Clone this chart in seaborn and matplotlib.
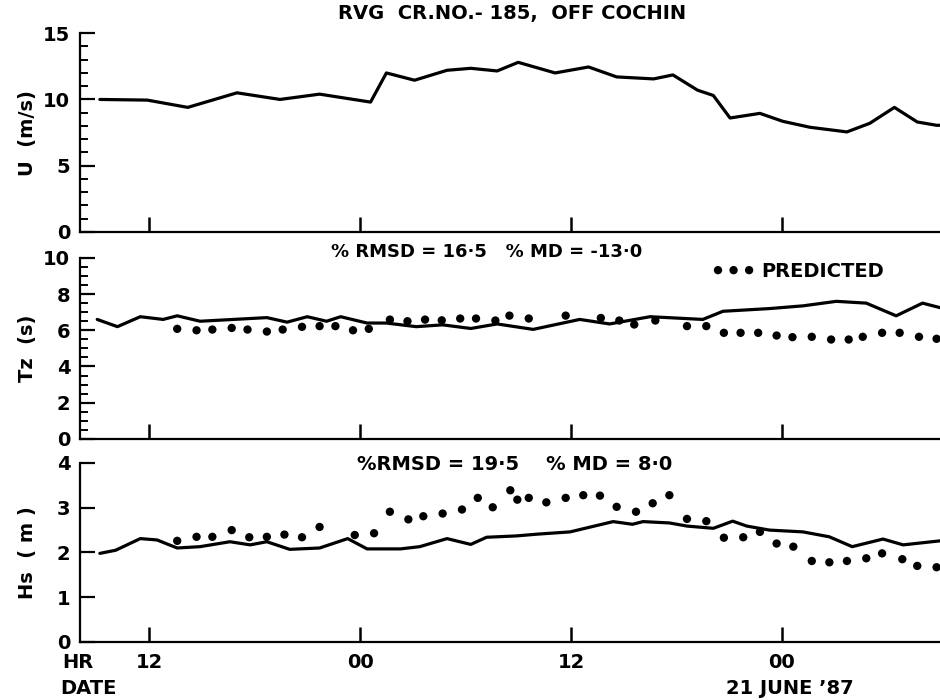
import matplotlib
matplotlib.use("Agg")
import matplotlib.pyplot as plt
import pandas as pd
import seaborn as sns
from matplotlib.ticker import MultipleLocator, FixedLocator

# time axis in hours counted from 00 h of 20 June 1987
# wind speed U (m/s), measured
u_hr = [9.2, 11.9, 14.2, 17.0, 19.45, 21.7, 24.6, 25.5, 27.1, 28.95, 30.3, 31.8,
        33.0, 35.1, 37.0, 38.6, 40.7, 41.8, 43.2, 44.1, 45.05, 46.75, 48.05,
        49.6, 51.7, 53.0, 54.4, 55.7, 56.8, 57.0]
u_val = [10.0, 9.95, 9.4, 10.5, 10.0, 10.4, 9.8, 12.0, 11.45, 12.2, 12.35, 12.15,
         12.8, 12.0, 12.45, 11.7, 11.55, 11.85, 10.7, 10.3, 8.6, 8.95, 8.35,
         7.9, 7.55, 8.2, 9.4, 8.3, 8.05, 8.05]

# zero-crossing period Tz (s), measured
tz_hr = [9.05, 10.2, 11.5, 12.8, 13.6, 14.9, 16.8, 18.7, 19.85, 21.0, 22.1, 22.9,
         24.4, 25.5, 27.2, 28.7, 30.3, 31.8, 33.85, 36.5, 38.2, 40.5, 43.5,
         44.65, 47.3, 49.2, 51.1, 52.8, 54.5, 56.0, 57.0]
tz_val = [6.6, 6.2, 6.75, 6.6, 6.8, 6.5, 6.6, 6.7, 6.45, 6.75, 6.5, 6.75,
          6.4, 6.4, 6.2, 6.3, 6.1, 6.35, 6.05, 6.6, 6.35, 6.75, 6.6,
          7.05, 7.2, 7.35, 7.6, 7.5, 6.8, 7.5, 7.25]

# Tz predicted
tzp_hr = [13.6, 14.7, 15.6, 16.7, 17.6, 18.7, 19.6, 20.7, 21.7, 22.6, 23.6, 24.5,
          25.7, 26.7, 27.7, 28.65, 29.7, 30.6, 31.7, 32.5, 33.6, 35.7, 37.7,
          38.75, 39.6, 40.8, 42.6, 43.7, 44.7, 45.65, 46.65, 47.7, 48.6, 49.7,
          50.8, 51.8, 52.6, 53.7, 54.7, 55.8, 56.8]
tzp_val = [6.08, 6.0, 6.04, 6.13, 6.04, 5.93, 6.04, 6.19, 6.23, 6.23, 6.0, 6.08,
           6.59, 6.5, 6.59, 6.55, 6.65, 6.65, 6.54, 6.81, 6.65, 6.81, 6.68,
           6.54, 6.32, 6.54, 6.23, 6.23, 5.86, 5.86, 5.86, 5.71, 5.62, 5.64,
           5.49, 5.49, 5.64, 5.86, 5.86, 5.64, 5.53]

# significant wave height Hs (m), measured
hs_hr = [9.2, 10.1, 11.5, 12.45, 13.6, 14.9, 16.6, 17.75, 18.7, 20.0, 21.7, 23.3,
         24.4, 26.3, 27.4, 28.95, 30.3, 31.2, 32.9, 34.1, 35.95, 38.4, 39.5,
         40.1, 41.6, 42.6, 44.1, 45.2, 46.0, 47.3, 49.2, 50.7, 52.0, 53.75,
         54.9, 57.0]
hs_val = [1.98, 2.05, 2.31, 2.28, 2.1, 2.13, 2.24, 2.17, 2.24, 2.07, 2.1, 2.31,
          2.08, 2.08, 2.13, 2.31, 2.18, 2.34, 2.37, 2.41, 2.46, 2.69, 2.63,
          2.69, 2.66, 2.59, 2.54, 2.7, 2.59, 2.5, 2.46, 2.35, 2.13, 2.3,
          2.17, 2.26]

# Hs predicted
hsp_hr = [13.6, 14.7, 15.6, 16.7, 17.7, 18.7, 19.7, 20.7, 21.7, 23.7, 24.8, 25.7,
          26.75, 27.6, 28.7, 29.8, 30.7, 31.55, 32.55, 32.95, 33.6, 34.6, 35.7,
          36.7, 37.65, 38.6, 39.7, 40.65, 41.6, 42.6, 43.7, 44.7, 45.8, 46.75,
          47.7, 48.65, 49.7, 50.7, 51.7, 52.8, 53.7, 54.85, 55.7, 56.8]
hsp_val = [2.26, 2.35, 2.35, 2.5, 2.34, 2.35, 2.4, 2.34, 2.57, 2.39, 2.43, 2.91,
           2.74, 2.81, 2.87, 2.96, 3.22, 3.01, 3.39, 3.18, 3.22, 3.12, 3.22,
           3.28, 3.27, 3.02, 2.91, 3.1, 3.28, 2.75, 2.7, 2.33, 2.34, 2.46,
           2.2, 2.13, 1.81, 1.78, 1.81, 1.87, 1.98, 1.85, 1.7, 1.67]

hr_ticks = [12, 24, 36, 48]
hr_labels = ["12", "00", "12", "00"]

sns.set_style("ticks")
plt.rcParams["font.family"] = ["DejaVu Sans"]
plt.rcParams["font.weight"] = "bold"
plt.rcParams["axes.linewidth"] = 1.6
for key in ("text.color", "axes.labelcolor", "axes.edgecolor",
            "xtick.color", "ytick.color"):
    plt.rcParams[key] = "black"

fig = plt.figure(figsize=(9.4, 7), dpi=100)
ax1 = fig.add_axes([0.0851, 0.6686, 0.915, 0.284])
ax2 = fig.add_axes([0.0851, 0.373, 0.915, 0.2586])
ax3 = fig.add_axes([0.0851, 0.0829, 0.915, 0.2557])

fs = 14
lw = 2.3

sns.lineplot(x=u_hr, y=u_val, ax=ax1, color="black", linewidth=lw, sort=False,
             solid_joinstyle="round")
sns.lineplot(x=tz_hr, y=tz_val, ax=ax2, color="black", linewidth=lw, sort=False,
             solid_joinstyle="round")
sns.scatterplot(x=tzp_hr, y=tzp_val, ax=ax2, color="black", s=36,
                edgecolor="none", label="PREDICTED")
sns.lineplot(x=hs_hr, y=hs_val, ax=ax3, color="black", linewidth=lw, sort=False,
             solid_joinstyle="round")
sns.scatterplot(x=hsp_hr, y=hsp_val, ax=ax3, color="black", s=36, edgecolor="none")

for ax in (ax1, ax2, ax3):
    ax.set_xlim(8.07, 57.0)
    sns.despine(ax=ax, top=True, right=True)
    ax.xaxis.set_major_locator(FixedLocator(hr_ticks))
    ax.tick_params(axis="x", direction="in", length=11, width=1.8,
                   labelsize=fs, pad=8)
    ax.tick_params(axis="y", which="major", direction="in", length=11, width=1.6,
                   labelsize=fs, pad=7)
    ax.tick_params(axis="y", which="minor", direction="in", length=6, width=1.4)
    ax.set_xlabel("")

ax1.set_ylim(0, 15)
ax1.yaxis.set_major_locator(MultipleLocator(5))
ax1.yaxis.set_minor_locator(MultipleLocator(1))
ax1.set_xticklabels([])

ax2.set_ylim(0, 10)
ax2.yaxis.set_major_locator(MultipleLocator(2))
ax2.yaxis.set_minor_locator(MultipleLocator(0.5))
ax2.set_xticklabels([])

ax3.set_ylim(0, 4)
ax3.yaxis.set_major_locator(MultipleLocator(1))
ax3.set_xticklabels(hr_labels)

ax1.set_ylabel("U  (m/s)", fontsize=fs, fontweight="bold")
ax2.set_ylabel("Tz  (s)", fontsize=fs, fontweight="bold")
ax3.set_ylabel("Hs  ( m )", fontsize=fs, fontweight="bold")
for ax in (ax1, ax2, ax3):
    ax.yaxis.set_label_coords(-0.05, 0.5)

leg = ax2.legend(loc="center left", bbox_to_anchor=(0.735, 0.925), frameon=False,
                 scatterpoints=3, scatteryoffsets=[0.5], handlelength=2.2,
                 handletextpad=0.3, borderpad=0, borderaxespad=0,
                 prop={"size": fs, "weight": "bold"})

fig.text(0.545, 0.98, "RVG  CR.NO.- 185,  OFF COCHIN", ha="center", va="center",
         fontsize=fs, fontweight="bold")
fig.text(0.518, 0.64, "% RMSD = 16\u00b75   % MD = -13\u00b70", ha="center",
         va="center", fontsize=13, fontweight="bold")
fig.text(0.547, 0.337, "%RMSD = 19\u00b75    % MD = 8\u00b70", ha="center",
         va="center", fontsize=fs, fontweight="bold")
fig.text(0.066, 0.053, "HR", ha="left", va="center", fontsize=fs, fontweight="bold")
fig.text(0.064, 0.017, "DATE", ha="left", va="center", fontsize=fs, fontweight="bold")
fig.text(0.84, 0.017, "21 JUNE \u201987", ha="center", va="center", fontsize=fs,
         fontweight="bold")

fig.savefig("out.png", dpi=100)
